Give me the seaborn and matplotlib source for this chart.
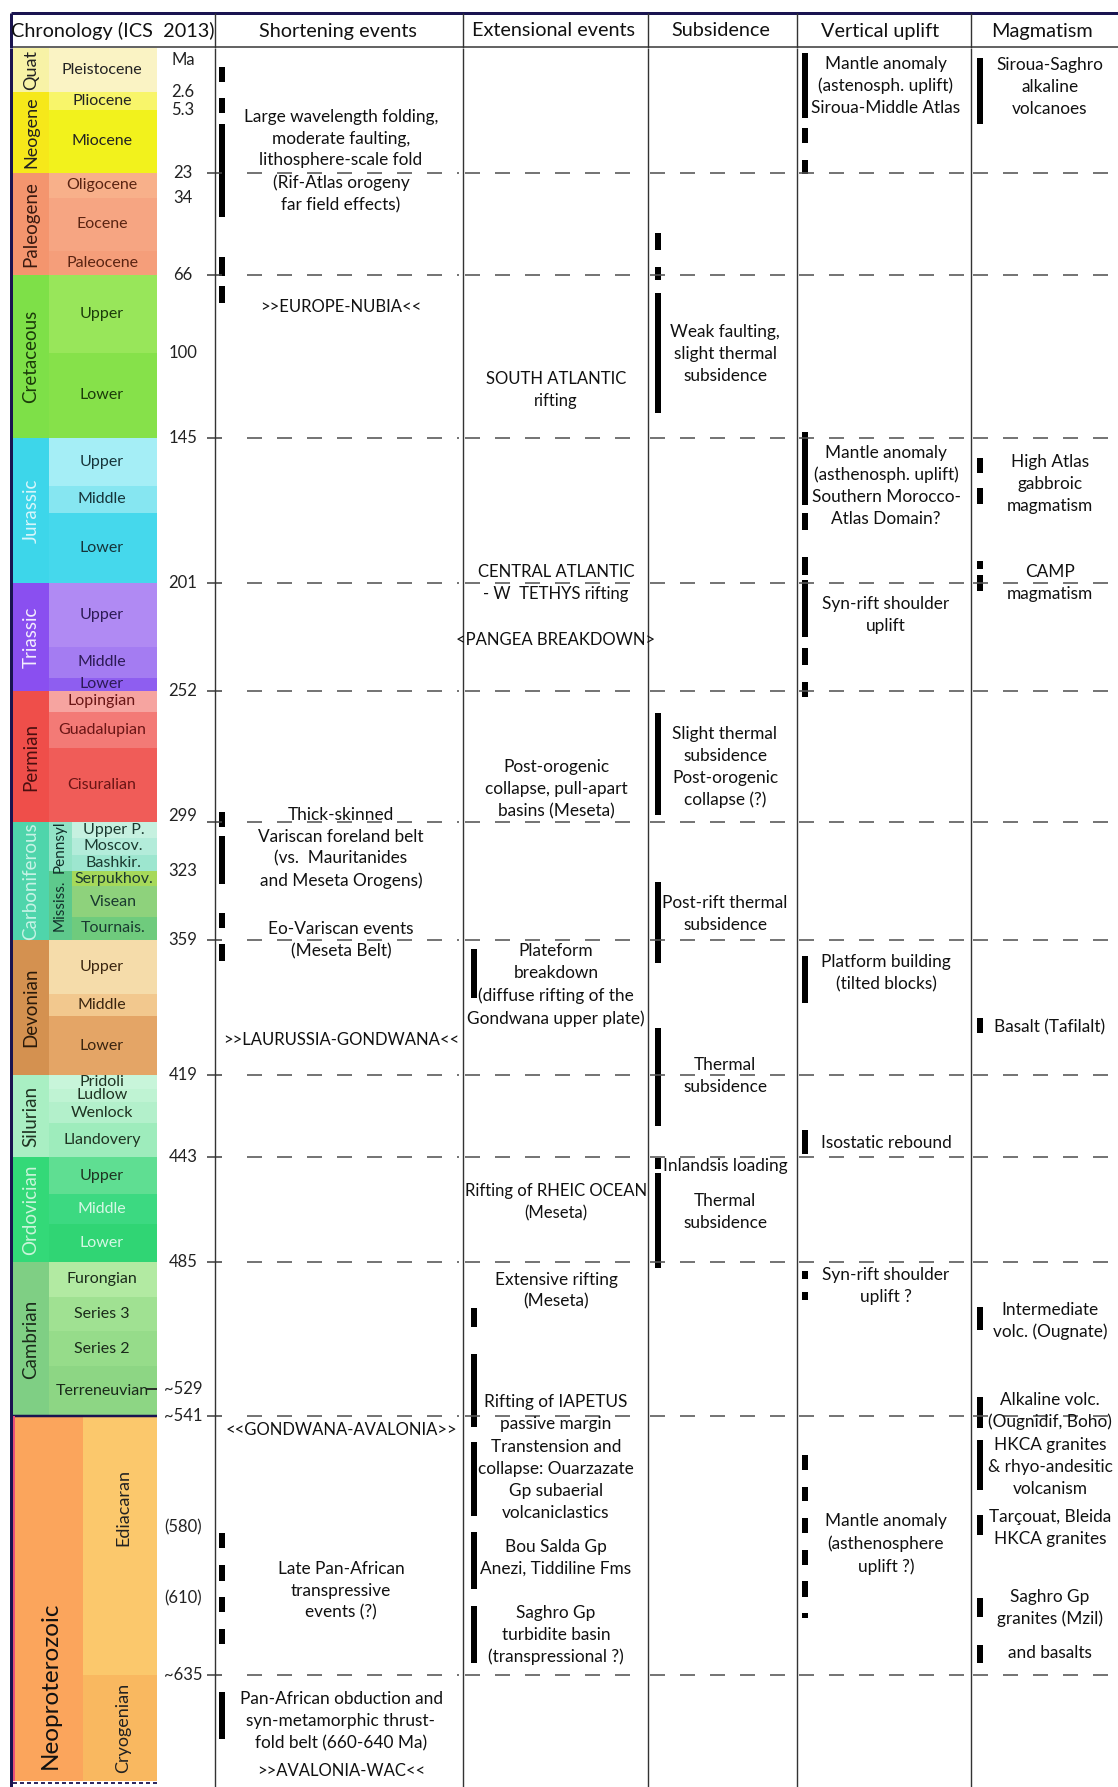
import numpy as np
import matplotlib
matplotlib.use("Agg")
import matplotlib.pyplot as plt
import seaborn as sns

sns.set_style("white")
plt.rcParams["font.family"] = ["Lato", "DejaVu Sans"]

# vertical scale of the schematic: age (Ma) -> row position
AGE_ANCHOR = [-1000, 0, 2.6, 5.3, 23, 34, 66, 100, 145, 201, 237, 247, 252, 299, 323, 359,
              419, 443, 485, 529, 541, 580, 610, 635, 672, 2000]
PIX_ANCHOR = [-952, 48, 92, 110, 173, 198, 275, 353, 438, 583, 647, 678, 691, 822, 871, 940,
              1075, 1157, 1262, 1389, 1416, 1527, 1598, 1675, 1787, 3115]

# columns
COL_TITLES = ["Chronology (ICS  2013)", "Shortening events", "Extensional events",
              "Subsidence", "Vertical uplift", "Magmatism"]

# chronostratigraphy
PERIOD_NAMES = ["Quat", "Neogene", "Paleogene", "Cretaceous", "Jurassic", "Triassic",
                "Permian", "Carboniferous", "Devonian", "Silurian", "Ordovician",
                "Cambrian", "Neoproterozoic"]
PERIOD_TOP = [0, 2.6, 23, 66, 145, 201, 252, 299, 359, 419, 443, 485, 541]
PERIOD_BASE = [2.6, 23, 66, 145, 201, 252, 299, 359, 419, 443, 485, 541, 670]
PERIOD_COLORS = ["#f7f2a6", "#f6e81a", "#f4956e", "#7ee048", "#3dd6ea", "#8a4ff0",
                 "#ef4e4a", "#4fd5ab", "#d49150", "#a9efc3", "#33d978", "#7fcf84", "#fba55c"]
PERIOD_TEXT = ["#222222", "#222222", "#3a1a10", "#1b3b0a", "#d8f6fb", "#f4eefe",
               "#4a0f0f", "#c7f3e6", "#2a1a0a", "#1f3322", "#c9f5da", "#1a2a1a", "#111111"]

SUBPERIOD_NAMES = ["Pennsyl", "Mississ."]
SUBPERIOD_TOP = [299, 323]
SUBPERIOD_BASE = [323, 359]
SUBPERIOD_COLORS = ["#92e3c6", "#5ec98c"]

UNIT_NAMES = ["Pleistocene", "Pliocene", "Miocene", "Oligocene", "Eocene", "Paleocene",
              "Upper", "Lower", "Upper", "Middle", "Lower", "Upper", "Middle", "Lower",
              "Lopingian", "Guadalupian", "Cisuralian",
              "Upper P.", "Moscov.", "Bashkir.", "Serpukhov.", "Visean", "Tournais.",
              "Upper", "Middle", "Lower", "Pridoli", "Ludlow", "Wenlock", "Llandovery",
              "Upper", "Middle", "Lower", "Furongian", "Series 3", "Series 2", "Terreneuvian",
              "Ediacaran", "Cryogenian"]
UNIT_TOP = [0, 2.6, 5.3, 23, 34, 56, 66, 100, 145, 163.5, 174, 201, 237, 247,
            252, 259.5, 272.5, 299, 307, 315, 323, 331, 347,
            359, 383, 393, 419, 423, 427, 433, 443, 458, 470, 485, 497, 509, 521, 541, 635]
UNIT_BASE = [2.6, 5.3, 23, 34, 56, 66, 100, 145, 163.5, 174, 201, 237, 247, 252,
             259.5, 272.5, 299, 307, 315, 323, 331, 347, 359,
             383, 393, 419, 423, 427, 433, 443, 458, 470, 485, 497, 509, 521, 541, 635, 670]
UNIT_COLORS = ["#faf3c4", "#f8f56a", "#f2f21c", "#f8b08a", "#f6a582", "#f59e7a",
               "#98e65a", "#86e14a", "#a5eef6", "#86e6f1", "#45d8ec",
               "#b08af3", "#a47cf2", "#8e5ef0", "#f6a4a0", "#f37a76", "#f05c58",
               "#c6f1e0", "#b3ecda", "#9de6cf", "#a6d95a", "#8ed27c", "#6fcb7d",
               "#f5dcaa", "#f2c88e", "#e4a566", "#c8f5da", "#bff3d3", "#b3f0cb", "#9eecbc",
               "#5fde92", "#3cd981", "#30d574", "#b2eaa2", "#a0e192", "#96dc8a", "#8dd684",
               "#fbc86c", "#f9b860"]
UNIT_TEXT = ["#222222"] * 3 + ["#5a2412"] * 3 + ["#1b3b0a"] * 2 + ["#16343a"] * 3 + \
            ["#2c1a55"] * 3 + ["#6a1515"] * 3 + ["#1a3a30"] * 6 + ["#3a2510"] * 3 + \
            ["#1f3322"] * 4 + ["#1f3322", "#d5f8e5", "#d5f8e5"] + ["#1a2a1a"] * 4 + ["#222222"] * 2

AGE_LABELS = ["Ma", "2.6", "5.3", "23", "34", "66", "100", "145", "201", "252", "299",
              "323", "359", "419", "443", "485", "~529", "~541", "(580)", "(610)", "~635"]
AGE_LABEL_MA = [0.7, 2.6, 5.3, 23, 34, 66, 100, 145, 201, 252, 297, 323, 359, 419,
                443, 485, 529, 541, 580, 610, 635]

BOUNDARIES = [23, 66, 145, 201, 252, 299, 359, 419, 443, 485, 541, 635]

# event bars (top, base in Ma) per column
SHORT_BARS = [(1.1, 2.0), (3.5, 6.1), (9.2, 42), (58.5, 66.5), (71, 78), (295.5, 301.5),
              (306, 330), (345, 353), (361, 368.5), (582.5, 589), (596, 603),
              (609.5, 614.5), (620, 625), (640.5, 656)]
EXT_BARS = [(363, 385), (501, 507.5), (517, 545), (550, 576), (582, 606), (612.5, 631)]
SUBS_BARS = [(48.5, 55.6), (62.7, 68.2), (74, 132), (260, 296.5), (328.7, 369.2),
             (398, 434), (443.5, 448), (449.5, 487)]
UPLIFT_BARS = [(0.3, 7.5), (10.4, 14.6), (19.3, 23.3), (142, 171), (174, 180.5),
               (191, 198), (200, 231.4), (237.3, 242.8), (248.5, 254.2), (366, 387), (435, 442),
               (488, 491), (495.4, 498.2), (554.7, 560), (566, 571), (577, 582.5),
               (589.7, 596), (603, 609.6), (615, 616.5)]
MAGMA_BARS = [(0.6, 9.2), (152.7, 158.5), (164.3, 170.5), (192.6, 195.7), (197.8, 205.3),
              (393.7, 400.3), (500.6, 508.6), (532.6, 545.2), (549.4, 567), (575.8, 583.5),
              (610, 616.2), (625.3, 631.1)]

# annotations (text, age of text centre)
SHORT_NOTES = ["Large wavelength folding,\nmoderate faulting,\nlithosphere-scale fold\n(Rif-Atlas orogeny\nfar field effects)",
               ">>EUROPE-NUBIA<<",
               "Thick-skinned\nVariscan foreland belt\n(vs.  Mauritanides\nand Meseta Orogens)",
               "Eo-Variscan events\n(Meseta Belt)",
               ">>LAURUSSIA-GONDWANA<<",
               "<<GONDWANA-AVALONIA>>",
               "Late Pan-African\ntranspressive\nevents (?)",
               "Pan-African obduction and\nsyn-metamorphic thrust-\nfold belt (660-640 Ma)",
               ">>AVALONIA-WAC<<"]
SHORT_NOTE_MA = [19.6, 80, 311.7, 359, 403.4, 545.9, 607, 650.2, 666.8]

EXT_NOTES = ["SOUTH ATLANTIC\nrifting", "CENTRAL ATLANTIC\n- W  TETHYS rifting",
             "<PANGEA BREAKDOWN>", "Post-orogenic\ncollapse, pull-apart\nbasins (Meseta)",
             "Plateform\nbreakdown\n(diffuse rifting of the\nGondwana upper plate)",
             "Rifting of RHEIC OCEAN\n(Meseta)", "Extensive rifting\n(Meseta)",
             "Rifting of IAPETUS\npassive margin",
             "Transtension and\ncollapse: Ouarzazate\nGp subaerial\nvolcaniclastics",
             "Bou Salda Gp\nAnezi, Tiddiline Fms",
             "Saghro Gp\nturbidite basin\n(transpressional ?)"]
EXT_NOTE_MA = [119.6, 201.2, 233, 287.2, 379, 461, 495, 539.7, 563.5, 593.1, 622]

SUBS_NOTES = ["Weak faulting,\nslight thermal\nsubsidence",
              "Slight thermal\nsubsidence\nPost-orogenic\ncollapse (?)",
              "Post-rift thermal\nsubsidence", "Thermal\nsubsidence",
              "Inlandsis loading", "Thermal\nsubsidence"]
SUBS_NOTE_MA = [100.5, 279.3, 345.4, 419.2, 446.6, 465]

UPLIFT_NOTES = ["Mantle anomaly\n(astenosph. uplift)\nSiroua-Middle Atlas",
                "Mantle anomaly\n(asthenosph. uplift)\nSouthern Morocco-\nAtlas Domain?",
                "Syn-rift shoulder\nuplift", "Platform building\n(tilted blocks)",
                "Isostatic rebound", "Syn-rift shoulder\nuplift ?",
                "Mantle anomaly\n(asthenosphere\nuplift ?)"]
UPLIFT_NOTE_MA = [2.25, 163.5, 219, 373.7, 438.9, 493.3, 587.2]

MAGMA_NOTES = ["Siroua-Saghro\nalkaline\nvolcanoes", "High Atlas\ngabbroic\nmagmatism",
               "CAMP\nmagmatism", "Basalt (Tafilalt)", "Intermediate\nvolc. (Ougnate)",
               "Alkaline volc.\n(Ougnidif, Boho)", "HKCA granites\n& rhyo-andesitic\nvolcanism",
               "Tarçouat, Bleida\nHKCA granites", "Saghro Gp\ngranites (Mzil)", "and basalts"]
MAGMA_NOTE_MA = [2.3, 162.8, 201.2, 397.7, 505.4, 538.8, 558.9, 580.6, 613.2, 627.9]

# ---------------- layout ----------------
W, H, HEAD = 1118, 1787, 48
COL_EDGES = [11, 215, 463, 648, 797, 971, W]
TITLE_X = [113, 338, 553, 721, 880, 1042]
BAR_X = [222, 474, 658, 805, 980]
NOTE_X = [341, 556, 725, 886, 1050]
NAVY = "#1a1450"
PX = 0.72  # points per pixel at 100 dpi


def age_to_pos(a):
    return np.interp(np.asarray(a, float), AGE_ANCHOR, PIX_ANCHOR)


def pos_to_age(p):
    return np.interp(np.asarray(p, float), PIX_ANCHOR, AGE_ANCHOR)


def mid_age(top, base):
    return float(pos_to_age((age_to_pos(top) + age_to_pos(base)) / 2))


fig = plt.figure(figsize=(W / 100, H / 100), dpi=100)
fig.patch.set_facecolor("white")
axh = fig.add_axes([0, (H - HEAD) / H, 1, HEAD / H])
ax = fig.add_axes([0, 0, 1, (H - HEAD) / H])
for a in (ax, axh):
    a.set_axis_off()
    a.set_xlim(0, W)
axh.set_ylim(HEAD, 0)
ax.set_yscale("function", functions=(age_to_pos, pos_to_age))
ax.set_ylim(672, 0)

# header
for t, x in zip(COL_TITLES, TITLE_X):
    axh.text(x, 31, t, ha="center", va="center", fontsize=14.3, color="#111111")
axh.hlines(13, 11, W, color=NAVY, lw=3 * PX)
axh.hlines(47, 11, W, color="#333333", lw=1.5 * PX)
axh.vlines(COL_EDGES[1:-1], 13, HEAD, color="#333333", lw=1.4 * PX)
axh.vlines(11, 13, HEAD, color=NAVY, lw=3 * PX)

# stratigraphic column
neo_split = 83
for name, top, base, c, tc in zip(PERIOD_NAMES, PERIOD_TOP, PERIOD_BASE, PERIOD_COLORS, PERIOD_TEXT):
    x1 = neo_split if top >= 541 else 49
    ax.bar(13, base - top, bottom=top, width=x1 - 13, align="edge", color=c, lw=0)
    if name == "Neoproterozoic":
        ax.text(50, 638.5, name, rotation=90, ha="center", va="center", fontsize=17.5, color=tc)
    else:
        ax.text(31, mid_age(top, base), name, rotation=90, ha="center", va="center",
                fontsize=13.5 if name not in ("Quat", "Neogene") else 13, color=tc)

for name, top, base, c in zip(SUBPERIOD_NAMES, SUBPERIOD_TOP, SUBPERIOD_BASE, SUBPERIOD_COLORS):
    ax.bar(49, base - top, bottom=top, width=72 - 49, align="edge", color=c, lw=0)
    ax.text(60, mid_age(top, base), name, rotation=90, ha="center", va="center",
            fontsize=11, color="#12302a")

for name, top, base, c, tc in zip(UNIT_NAMES, UNIT_TOP, UNIT_BASE, UNIT_COLORS, UNIT_TEXT):
    if top >= 541:
        x0 = neo_split
    elif 299 <= top and base <= 359:
        x0 = 72
    else:
        x0 = 49
    ax.bar(x0, base - top, bottom=top, width=157 - x0, align="edge", color=c, lw=0)
    if top >= 541:
        ya = 573 if name == "Ediacaran" else mid_age(top, base)
        ax.text(123, ya, name, rotation=90, ha="center", va="center", fontsize=13, color=tc)
    else:
        ax.text((x0 + 155) / 2, mid_age(top, base), name, ha="center", va="center",
                fontsize=11.5, color=tc)

ax.hlines(541, 13, 157, color=NAVY, lw=2.5 * PX)
ax.vlines(14, 541, 670, color="#e8507a", lw=2 * PX)
ax.hlines(670.8, 13, 157, color=NAVY, lw=1.8 * PX, linestyle=(0, (4 / 1.8, 3 / 1.8)))

for lab, a in zip(AGE_LABELS, AGE_LABEL_MA):
    ax.text(183, a, lab, ha="center", va="center", fontsize=12, color="#222222")
ax.hlines(529, 146, 157, color="#222222", lw=1.8 * PX)

# time lines
dash = (0, (15 / 1.6, 15 / 1.6))
for b in BOUNDARIES:
    ax.hlines(b, 207, 222, color="#444444", lw=1.6 * PX)
    starts = [247] + [e + 2 for e in COL_EDGES[2:-1]]
    for s, e in zip(starts, COL_EDGES[2:]):
        ax.hlines(b, s, e - 4, color="#555555", lw=1.6 * PX, linestyle=dash)

# column separators and frame
ax.vlines(COL_EDGES[1:-1], 0, 672, color="#333333", lw=1.4 * PX)
ax.vlines(11, 0, 672, color=NAVY, lw=3 * PX)

# event bars
for x, bars in zip(BAR_X, [SHORT_BARS, EXT_BARS, SUBS_BARS, UPLIFT_BARS, MAGMA_BARS]):
    tops = np.array([t for t, b in bars])
    bases = np.array([b for t, b in bars])
    ax.bar(np.full(len(bars), x), bases - tops, bottom=tops, width=6, color="black", lw=0)

# annotations; capitalised notes are set a little tighter
for x, notes, ages in zip(NOTE_X,
                          [SHORT_NOTES, EXT_NOTES, SUBS_NOTES, UPLIFT_NOTES, MAGMA_NOTES],
                          [SHORT_NOTE_MA, EXT_NOTE_MA, SUBS_NOTE_MA, UPLIFT_NOTE_MA, MAGMA_NOTE_MA]):
    for t, a in zip(notes, ages):
        caps = sum(ch.isupper() for ch in t) > 8
        ax.text(x, a, t, ha="center", va="center", fontsize=12.0 if caps else 12.4,
                color="#111111", linespacing=1.45)

fig.savefig("out.png", dpi=100)
